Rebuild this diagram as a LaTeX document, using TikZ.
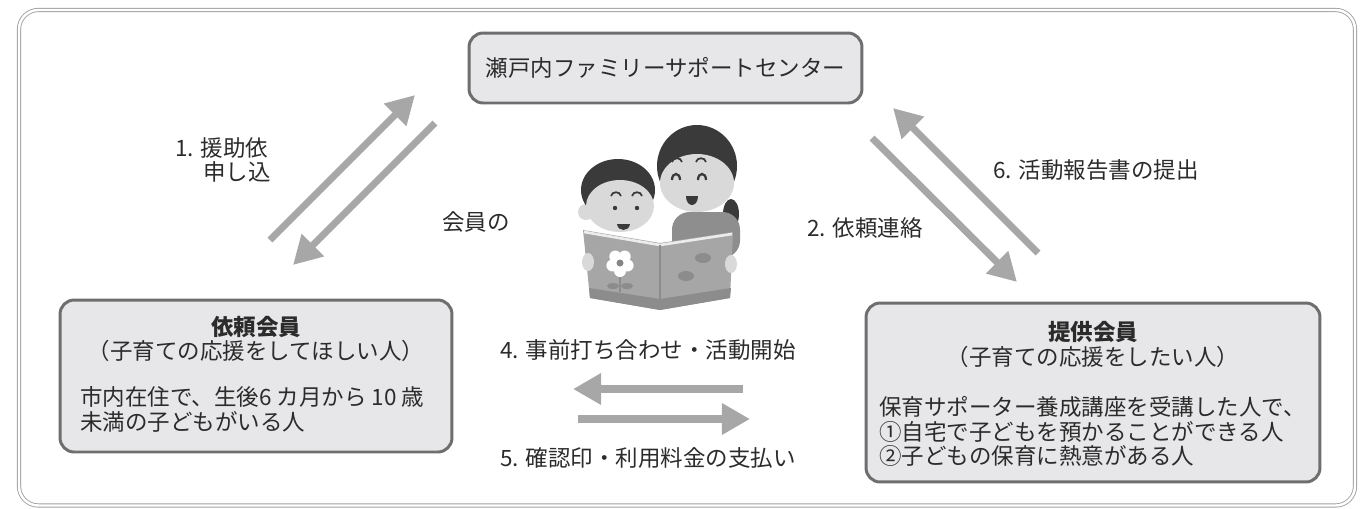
\documentclass[tikz,border=0pt]{standalone}
\usepackage{fontspec}
\setmainfont{Noto Sans CJK JP}
\usetikzlibrary{positioning,arrows.meta}

\definecolor{ink}{HTML}{2B2B2B}
\definecolor{boxfill}{HTML}{E7E7E9}
\definecolor{boxline}{HTML}{6E6E6E}
\definecolor{flowgray}{HTML}{A7A7A7}
\definecolor{framegray}{HTML}{A0A0A0}
\definecolor{hair}{HTML}{3A3A3A}
\definecolor{skin}{HTML}{D9D9D9}
\definecolor{sweater}{HTML}{8E8E8E}
\definecolor{cover}{HTML}{A6A6A6}
\definecolor{band}{HTML}{8C8C8C}

\tikzset{
  member/.style={draw=boxline, fill=boxfill, line width=1.7pt, rounded corners=8pt, inner sep=0pt},
  flow/.style={draw=flowgray, line width=4pt, -{Triangle[length=16pt,width=17pt]}},
  txt/.style={text=ink, font=\fontsize{12.8pt}{15pt}\selectfont, inner sep=0pt},
  ttl/.style={txt, font=\fontsize{12.8pt}{15pt}\selectfont\bfseries},
}

\begin{document}
\begin{tikzpicture}[x=0.02cm, y=-0.02cm]
  \useasboundingbox (0,0) rectangle (1366,508);

  % frame
  \draw[framegray, line width=0.5pt, double=white, double distance=1.4pt, rounded corners=11pt]
    (19,10) rectangle (1355,505.5);

  % nodes
  \node[member, txt, minimum width=7.86cm, minimum height=1.4cm] (center) at (665.5,68) {瀬戸内ファミリーサポートセンター};
  \node[member, minimum width=7.84cm, minimum height=3.04cm] (requester) at (256,376) {};
  \node[member, minimum width=9.08cm, minimum height=3.58cm] (provider) at (1093,392.5) {};

  \node[ttl] (reqtitle) at (256,327) {依頼会員};
  \node[txt] (reqsub) at (256,351) {（子育ての応援をしてほしい人）};
  \node[txt, anchor=west] (reqa) at (80,397) {市内在住で、生後6 カ月から 10 歳};
  \node[txt, anchor=west] (reqb) at (80,422) {未満の子どもがいる人};

  \node[ttl] (provtitle) at (1093,332) {提供会員};
  \node[txt] (provsub) at (1093,357) {（子育ての応援をしたい人）};
  \node[txt, anchor=west] (prova) at (879,407) {保育サポーター養成講座を受講した人で、};
  \node[txt, anchor=west] (provb) at (879,432) {①自宅で子どもを預かることができる人};
  \node[txt, anchor=west] (provc) at (879,456) {②子どもの保育に熱意がある人};

  % labels
  \node[txt, anchor=west] (ask) at (175,148) {1. 援助依};
  \node[txt, anchor=west] (ask2) at (203,172) {申し込};
  \node[txt, anchor=west] (intro) at (442,222) {会員の};
  \node[txt, anchor=east] (notify) at (923,228) {2. 依頼連絡};
  \node[txt, anchor=west] (report) at (993,170) {6. 活動報告書の提出};
  \node[txt, anchor=west] (meet) at (500,350) {4. 事前打ち合わせ・活動開始};
  \node[txt, anchor=west] (pay) at (500,458) {5. 確認印・利用料金の支払い};

  % mother
  \fill[hair] (731,214) ellipse [x radius=8, y radius=15];
  \fill[sweater, rounded corners=10pt] (672,212) rectangle (740,258);
  \fill[hair] (697,166) ellipse [x radius=40, y radius=41];
  \fill[skin] (697,183) ellipse [x radius=37, y radius=29];
  \draw[hair, line width=1pt] (672,162) .. controls (673,157) and (681,157) .. (682,162);
  \draw[hair, line width=1pt] (696,162) .. controls (697,157) and (705,157) .. (706,162);
  \draw[hair, line width=1.3pt] (672,180) .. controls (672,172) and (680,172) .. (680,180);
  \draw[hair, line width=1.3pt] (698,180) .. controls (698,172) and (706,172) .. (706,180);
  \fill[hair] (686,196) .. controls (686,208) and (698,208) .. (698,196) -- cycle;

  % child
  \fill[skin] (586,212) circle [radius=8];
  \fill[hair] (618,190) ellipse [x radius=37, y radius=31];
  \fill[skin] (620,206) ellipse [x radius=34, y radius=26];
  \draw[hair, line width=1pt] (611,196) .. controls (612,191) and (620,191) .. (621,196);
  \draw[hair, line width=1pt] (632,196) .. controls (633,191) and (641,191) .. (642,196);
  \fill[hair] (615,208) circle [radius=2.2];
  \fill[hair] (637,208) circle [radius=2.2];
  \fill[hair] (617,224) .. controls (618,232) and (629,232) .. (630,224) -- cycle;

  % book
  \fill[cover] (583,230) -- (660,243) -- (733,232) -- (730,298) -- (660,310) -- (590,298) -- cycle;
  \fill[band] (589,288) -- (660,299) -- (731,288) -- (730,298) -- (660,310) -- (590,298) -- cycle;
  \draw[white!85!gray, line width=1.5pt] (584,232) -- (660,245) -- (732,234);
  \draw[band, line width=0.8pt] (660,245) -- (660,308);
  \fill[skin] (588,262) ellipse [x radius=6, y radius=9];
  \fill[skin] (731,264) ellipse [x radius=6, y radius=9];
  \draw[band, line width=1.5pt] (620,266) -- (620,292);
  \fill[band] (613,286) ellipse [x radius=6, y radius=3];
  \fill[band] (627,286) ellipse [x radius=6, y radius=3];
  \foreach \a in {18,90,162,234,306}
    \fill[white, shift={(620,263)}] (\a:8) circle [radius=6];
  \fill[cover!80!black] (620,263) circle [radius=3.5];
  \fill[band] (703,258) ellipse [x radius=8, y radius=5];
  \fill[band] (686,276) ellipse [x radius=8, y radius=5];

  % edges
  \coordinate (a1s) at (270,240);  \coordinate (a1e) at (415,95);
  \coordinate (a2s) at (435,123);  \coordinate (a2e) at (293,265);
  \coordinate (b2s) at (872,138);  \coordinate (b2e) at (1017,282);
  \coordinate (b6s) at (1038,253); \coordinate (b6e) at (893,108);
  \coordinate (c4s) at (743,389);  \coordinate (c4e) at (573,389);
  \coordinate (c5s) at (578,419);  \coordinate (c5e) at (750,419);

  \draw[flow] (a1s) -- (a1e);
  \draw[flow] (a2s) -- (a2e);
  \draw[flow] (b2s) -- (b2e);
  \draw[flow] (b6s) -- (b6e);
  \draw[flow] (c4s) -- (c4e);
  \draw[flow] (c5s) -- (c5e);
\end{tikzpicture}
\end{document}
